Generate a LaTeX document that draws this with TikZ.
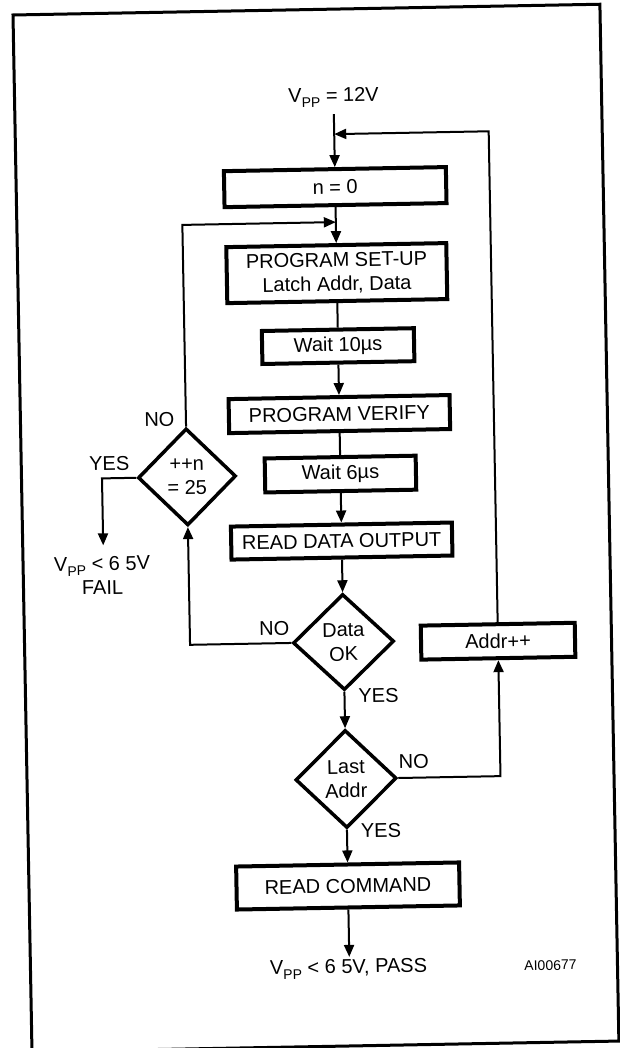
\documentclass[tikz,border=0pt]{standalone}
\usepackage{fontspec}
\setmainfont{Liberation Sans}
\usetikzlibrary{shapes.geometric, arrows.meta}

\newcommand{\vpp}{V\raisebox{-5pt}{\fontsize{14}{14}\selectfont PP}}

\tikzset{
  box/.style={draw, line width=4pt, inner sep=0pt, align=center},
  decision/.style={draw, diamond, line width=3.5pt, inner sep=0pt, align=center},
  conn/.style={line width=2pt},
  arr/.style={conn, -{Triangle[length=12pt,width=10pt]}},
  lbl/.style={inner sep=0pt, align=center}
}

\begin{document}
\begin{tikzpicture}[x=1pt, y=-1pt, font=\fontsize{20}{24}\selectfont]
\useasboundingbox (0,0) rectangle (620,1048);
\clip (0,0) rectangle (620,1048);

\begin{scope}[shift={(13,15)}, rotate=1.05, transform shape]
% frame
\draw[line width=3pt] (0,0) rectangle (587,1037);

% main column
\node[lbl, anchor=base] (vpp) at (319,93) {\vpp{} = 12V};
\coordinate (top) at (319,105);
\coordinate (join1) at (319,125);
\coordinate (join2) at (319,213);
\node[box, minimum width=222, minimum height=36] (nzero) at (319,178) {n = 0};
\node[box, minimum width=220, minimum height=56] (setup) at (319,264) {PROGRAM SET-UP\\Latch Addr, Data};
\node[box, minimum width=152, minimum height=33] (waitA) at (319,337) {Wait 10µs};
\node[box, minimum width=221, minimum height=34] (verify) at (319,405) {PROGRAM VERIFY};
\node[box, minimum width=151, minimum height=34] (waitB) at (319,465) {Wait 6µs};
\node[box, minimum width=221, minimum height=33] (readout) at (319,532) {READ DATA OUTPUT};
\node[decision, minimum width=101, minimum height=96] (dataok) at (319,633) {Data\\OK};
\node[decision, minimum width=101, minimum height=98] (lastaddr) at (319,770) {Last\\Addr};
\node[box, minimum width=223, minimum height=43] (readcmd) at (319,877) {READ COMMAND};
\coordinate (passtip) at (319,948);
\node[lbl] (pass) at (318,960) {\vpp{} < 6 5V, PASS};
\node[lbl, font=\fontsize{14}{16}\selectfont] (figid) at (520,960) {AI00677};

% side branches
\node[box, minimum width=154, minimum height=34] (addrinc) at (473.5,635) {Addr++};
\node[decision, minimum width=98, minimum height=97] (incn) at (165.5,465) {++n\\= 25};
\coordinate (failtip) at (80.5,532);
\node[lbl] (fail) at (79,562) {\vpp{} < 6 5V\\FAIL};

% labels
\node[lbl] (noA) at (139,407) {NO};
\node[lbl] (yesA) at (88,450) {YES};
\node[lbl] (noB) at (250,618) {NO};
\node[lbl] (yesB) at (353,687) {YES};
\node[lbl] (noC) at (387,754) {NO};
\node[lbl] (yesC) at (353,822) {YES};

% connectors
\draw[arr] (top) -- (nzero.north);
\draw[arr] (addrinc.north) |- (join1);
\draw[arr] (nzero.south) -- (setup.north);
\draw[arr] (incn.north) |- (join2);
\draw[conn] (setup.south) -- (waitA.north);
\draw[arr] (waitA.south) -- (verify.north);
\draw[conn] (verify.south) -- (waitB.north);
\draw[arr] (waitB.south) -- (readout.north);
\draw[arr] (readout.south) -- (dataok.north);
\draw[arr] (dataok.west) -| (incn.south);
\draw[arr] (dataok.south) -- (lastaddr.north);
\draw[arr] (lastaddr.east) -| (addrinc.south);
\draw[arr] (lastaddr.south) -- (readcmd.north);
\draw[arr] (readcmd.south) -- (passtip);
\draw[arr] (incn.west) -| (failtip);
\end{scope}
\end{tikzpicture}
\end{document}
